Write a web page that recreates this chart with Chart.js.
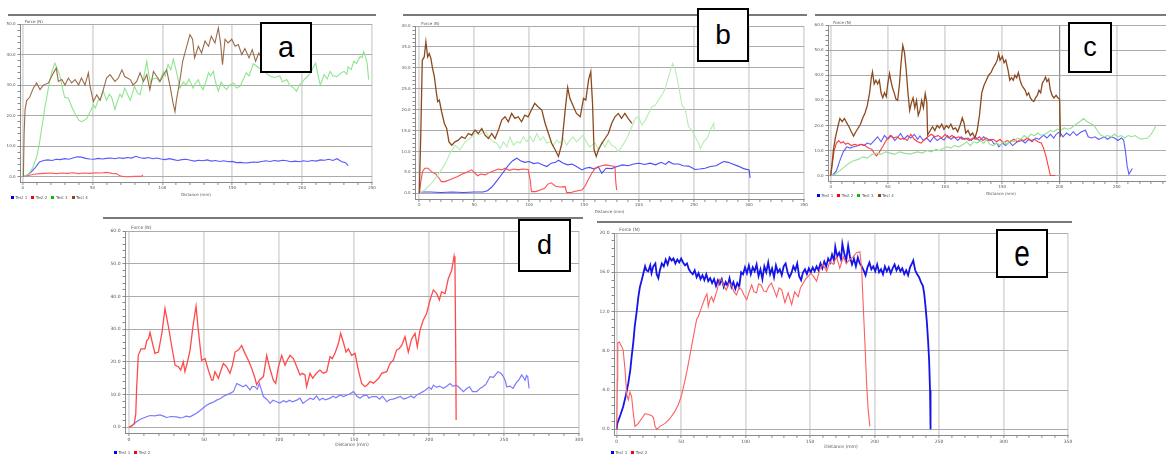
<!DOCTYPE html>
<html>
<head>
  <meta charset="utf-8">
  <title>Force vs distance, tests a-e</title>
  <script src="https://cdn.jsdelivr.net/npm/chart.js"></script>
  <style>
    html, body { margin: 0; width: 1166px; height: 454px; overflow: hidden; background: #fff; }
    canvas { position: absolute; }
    .rule { position: absolute; height: 2px; background: #7a7a7a; }
    .tag { position: absolute; box-sizing: border-box; border: 2px solid #000; background: #fff;
           font-family: "Liberation Sans", sans-serif; color: #000;
           display: flex; align-items: center; justify-content: center; z-index: 2; }
    .legend { position: absolute; font: 4px "DejaVu Sans", sans-serif; color: #555; white-space: nowrap; }
    .legend span { margin-right: 4px; }
    .legend i { display: inline-block; width: 3px; height: 3px; margin-right: 1.5px; vertical-align: middle; }
  </style>
</head>
<body>
  <div class="rule" style="left:8px;top:14px;width:368px"></div>
  <div class="rule" style="left:403px;top:14px;width:404px"></div>
  <div class="rule" style="left:815px;top:14px;width:351px"></div>
  <div class="rule" style="left:103px;top:217px;width:480px"></div>
  <div class="rule" style="left:597px;top:221px;width:475px"></div>

  <div class="tag" style="left:260px;top:22px;width:52px;height:51px;font-size:29px">a</div>
  <div class="tag" style="left:697px;top:8px;width:52px;height:54px;font-size:28px">b</div>
  <div class="tag" style="left:1068px;top:22px;width:44px;height:51px;font-size:27px">c</div>
  <div class="tag" style="left:518px;top:219px;width:53px;height:53px;font-size:27px">d</div>
  <div class="tag" style="left:996px;top:229px;width:52px;height:49px;font-size:28px"><span style="display:inline-block;transform:scaleY(1.3)">e</span></div>

<script>
// tick labels of each panel
const aXTicks = [0, 50, 100, 150, 200, 250];
const aYTicks = [0, 10, 20, 30, 40, 50];
const bXTicks = [0, 50, 100, 150, 200, 250, 300, 350];
const bYTicks = [0, 5, 10, 15, 20, 25, 30, 35, 40];
const cXTicks = [0, 50, 100, 150, 200, 250, 300];
const cYTicks = [0, 10, 20, 30, 40, 50, 60];
const dXTicks = [0, 50, 100, 150, 200, 250, 300];
const dYTicks = [0, 10, 20, 30, 40, 50, 60];
const eXTicks = [0, 50, 100, 150, 200, 250, 300, 350];
const eYTicks = [0, 4, 8, 12, 16, 20];

const testNames = ["Test 1", "Test 2", "Test 3", "Test 4"];

// [distance mm, force N]
const aTest1 = [[0,0],[3,0.5],[6,1.5],[9,3],[12,4.8],[15,5.3],[18,5.5],[21,5.3],[24,5.7],[27,5.6],[30,5.9],[33,5.7],[36,6.1],[39,6.5],[42,6.4],[45,6.0],[48,5.8],[51,5.7],[54,6.0],[57,5.8],[60,6.0],[63,6.1],[66,5.9],[69,6.2],[72,6.0],[75,6.3],[78,6.1],[81,6.7],[84,6.2],[87,6.0],[90,6.3],[93,5.9],[96,6.1],[99,5.8],[102,5.6],[105,5.9],[108,5.6],[111,5.3],[114,5.6],[117,5.7],[120,5.4],[123,5.1],[126,5.4],[129,5.2],[132,5.5],[135,5.1],[138,5.3],[141,5.0],[144,5.2],[147,4.9],[150,5.0],[153,4.6],[156,4.7],[159,4.5],[162,4.6],[165,4.8],[168,4.7],[171,5.0],[174,5.2],[177,5.0],[180,5.3],[183,5.1],[186,5.4],[189,5.2],[192,4.9],[195,5.1],[198,4.9],[201,5.2],[204,5.0],[207,5.3],[210,5.1],[213,5.5],[216,5.4],[219,5.7],[222,5.3],[225,5.9],[228,5.0],[231,4.6],[233,3.6]];
const aTest2 = [[0,0],[4,0.4],[8,0.8],[12,1.0],[16,1.1],[20,1.2],[24,1.0],[28,1.2],[32,1.1],[36,1.3],[40,1.0],[44,1.2],[48,1.1],[52,1.3],[56,1.2],[60,1.4],[64,1.1],[67,1.0],[69,0.5],[71,0.1],[75,0.0],[80,0.1],[85,0.1],[86,0.6]];
const aTest3 = [[0,0],[4,0.8],[7,2.7],[10,6.5],[12,11],[14,17],[16,23],[18,28],[19.5,31.8],[21,34.5],[23,37.2],[25,35],[26.7,33],[28.5,29],[30,26],[32.7,25.7],[35,23],[37,21],[38.6,19.7],[40,18.6],[42,18],[44,18.5],[45.8,19],[48,21],[50.6,23.5],[52,22.5],[54,25],[56,26],[57.7,28],[60,25],[62,27],[63.7,26],[66,22],[68,25],[69.6,27],[71,26],[73,29],[75,27],[77,25],[79,28],[80,29.6],[82,27.5],[84,26.8],[86,31],[88.8,37.8],[90,34],[91.5,30.7],[93,32],[96,32.3],[98,31],[100.7,34.5],[102,33],[104,36.7],[106,35],[107.8,38.5],[110,34.5],[112.6,29],[115,31],[117,30],[119,32],[122,29],[123.5,30.5],[125.7,31.8],[127,30],[129,28.5],[131,31],[133,34],[134.5,33],[136.5,34.5],[138,31],[140,28],[142,31],[144,29.5],[146,28.5],[148,30],[151,30.7],[153,29],[155.6,29.6],[158,32],[160,34],[162,33],[165,37],[168,36],[171,35],[174,34],[177,33],[180,32.5],[184,33],[186,31],[189,31.8],[191,30],[194,29],[196,28],[198,30],[200,31],[202,32],[205,33.4],[207,35],[209.7,37.2],[211,34],[213,30],[215.7,33.4],[218,32],[220,34.5],[222,33],[225,32.8],[228,34],[230,34.5],[232,33.5],[233,36],[235,35],[237,37.8],[239,37],[241.5,39.4],[243,39],[244,41],[245.5,39],[246.5,37.2],[247.6,31.8]];
const aTest4 = [[0.5,0],[1,14],[1.7,22],[2.9,25],[5,26],[7.6,29],[10,30.7],[12.4,28.5],[14.8,30],[18.4,30.7],[22,34],[24,35.6],[25.5,31.2],[28,31.8],[30.3,30],[32.7,32.3],[35,30.7],[37.5,31.8],[40,30],[42,32.3],[44.6,30],[47,34],[48.2,29.6],[50.6,24.6],[53,26.8],[55.4,25],[57.7,28.5],[60,32.3],[62.5,33.4],[66,31.2],[68.5,32.3],[71,35],[73,32.8],[77,31.8],[79,30],[81.6,31.2],[84,34],[86.4,31.2],[88.8,33.4],[91,28.5],[93.6,34.5],[96,32.8],[98.3,31.2],[100.7,33.4],[103,35],[105.5,29.6],[107.4,24.6],[109,21.3],[110,25],[112.6,31.8],[114.5,37.8],[117,42],[119.7,46.5],[121.6,45],[123,38.9],[125.7,42.7],[128,40.5],[130.5,44.4],[133,42.7],[135,46],[137.6,43.8],[140,48.7],[141.6,43.8],[143,36.7],[144.8,45],[147,43.8],[149.6,45],[152,42.7],[154.3,43.3],[156.8,40],[159,42],[162,38.9],[164.3,41.6],[166.7,37.8],[169,40.5],[172,38]];

const bTest1 = [[0,0.3],[10,0.3],[20,0.2],[30,0.3],[40,0.2],[50,0.3],[58,0.3],[62,0.6],[66,1.5],[70,2.8],[74,4.2],[78,5.6],[82,7.0],[85,7.8],[88.7,8.4],[92,7.8],[96,7.4],[100,7.6],[104,7.1],[108,7.3],[112,6.8],[116,6.4],[120,7.2],[124,7.4],[126.6,7.9],[131,7.2],[135,6.8],[139,7.0],[143,6.4],[148,5.6],[151,6.0],[155,6.2],[159,5.8],[163,6.3],[166,4.8],[170,6.0],[175,5.9],[180,6.4],[185,6.8],[190,6.6],[195,7.0],[200,7.2],[205,6.9],[210,7.2],[215,6.8],[220,7.4],[224,6.9],[227,7.6],[231,7.0],[236,7.0],[240,6.6],[245,6.5],[251,5.7],[255,5.8],[260,6.0],[265,6.4],[270,6.6],[274,7.2],[277,7.6],[281,7.4],[285,7.0],[290,6.5],[295,5.9],[300,5.6],[301,3.7]];
const bTest2 = [[0,0],[1.5,3],[3,5.2],[5,6.0],[8,6.0],[10,5.4],[12,5.0],[15,4.6],[18,3.6],[20,2.8],[23.4,2.8],[27,3.2],[31,3.6],[35,4.0],[39,4.6],[43,5.0],[47.7,5.6],[50,5.0],[53,4.2],[56,4.6],[60,4.4],[64,5.0],[68,5.4],[72,5.8],[75,5.6],[78,6.0],[82,5.5],[86,5.8],[90,5.6],[94,5.8],[99,5.7],[101,3.0],[102,0.4],[106,0.4],[110,0.8],[114,1.2],[117,2.2],[120,2.5],[124,1.7],[128,1.5],[132.7,1.6],[134,0.2],[138,0.2],[142,0.5],[148,0.8],[151,1.8],[154,3.4],[157,4.8],[160,6.0],[163,6.4],[166,6.6],[170,6.8],[174,6.6],[178,6.4],[178.7,3.0],[179.5,0.8]];
const bTest3 = [[0.5,0.2],[5,0.8],[11,2.4],[17,4.4],[23,6.8],[28,9.6],[32.5,11.5],[37,10.4],[41.6,12.3],[46,13.1],[50.7,14.3],[55,14],[59.8,15.1],[64,13.1],[67.4,12.3],[70.5,12],[73.5,10.7],[76.5,12.3],[79.6,11.1],[82.6,13.5],[85.6,11.5],[88.7,12.3],[91.7,12],[94.7,13.5],[97.8,12.3],[100.8,13.5],[103.9,12.3],[106.9,14.3],[110,12.7],[113,13.5],[116,12],[119,12.3],[122,11.5],[125,12.7],[128,12],[131,13.1],[134,11.5],[137,12.7],[140,13.5],[143,12.3],[146,13.1],[149,13.9],[152,12.3],[155,11.1],[160,12],[163,10.4],[166,12.3],[169,11.1],[172,12.7],[175,11.5],[178,11.1],[181,10],[184,11.1],[187,12.3],[190,13.9],[193.4,15.9],[196.5,17.9],[199.5,18.3],[202.5,16.3],[205.6,17.5],[208.6,19.1],[211.7,20.7],[214.7,21.1],[217.7,22.3],[220.8,23.5],[223.8,25.1],[226.8,27.9],[230.5,31],[233,29.5],[236,25.5],[239,21.1],[242,19.9],[245,15.9],[248,15.1],[251,13.5],[254,12],[255.7,10.7],[258.7,12.3],[261.8,13.1],[264.8,15.1],[267.8,16.7],[268.8,14.7]];
const bTest4 = [[0,0],[1.5,16],[2.7,31.8],[4.5,32.6],[6,36.2],[7.6,32.6],[9,33.4],[10.6,32.2],[12,29.9],[13.7,27.9],[15.2,24.7],[16.7,21.9],[18.2,22.3],[20.3,19.5],[22.8,16.7],[24.9,15.5],[27,12.3],[29.5,11.5],[32.5,12.3],[35.5,12.7],[38.6,13.5],[41.6,13.1],[44.6,14.3],[47.7,13.9],[50.7,15.1],[53.7,14.3],[56.8,15.5],[59.8,13.9],[62.9,13.1],[65.9,14.3],[68.9,13.1],[72,15.1],[75,17.5],[78,18.3],[81,17.1],[84,19.1],[87,17.9],[90,18.3],[93,17.1],[96,18.7],[99,18.3],[102,19.9],[105,21.5],[108,20.7],[111.5,19.9],[114.5,16.7],[117.5,14.3],[120.5,11.9],[123.6,10.4],[126.6,8.8],[129.7,11.9],[132.7,19.9],[135,25.3],[137,22.7],[140.3,20.7],[143,19.1],[146.4,18.3],[149.4,22.7],[151.5,22.3],[154,27.1],[156,29.1],[157.6,21.5],[159,10.4],[161,8.8],[163,10.4],[166,11.9],[169,13.1],[172,14.3],[175,16.7],[178,18.3],[181,19.1],[184,17.9],[187,19.1],[190,17.9],[193.4,16.7]];

const cTest1 = [[0,0],[2,0.3],[5,2],[8,6],[11,9.5],[14,11.5],[17,11],[20,11.5],[23,11.8],[26,12.5],[29,12],[32,13],[35,12.5],[38,14],[41,15.5],[44,13.5],[47,16],[50,14.5],[53,16],[56,14],[59,15.5],[61,16.8],[64,14.5],[67,16],[70,15],[73,16.5],[76,14.5],[78,15.8],[81,14],[84,15],[87,13.5],[90,15.5],[93,14],[96,15],[99,14.2],[102,16],[105,14.5],[108,15.5],[111,14],[114,15.5],[117,14.5],[120,15],[123,14],[126,15.5],[130,14],[133.7,15.5],[137,14],[140,14.5],[143,12.5],[145,13],[147,11.5],[150,13],[153,12],[156,13.5],[159,12],[163,13.5],[167,14],[170,13],[173,14.5],[176,13.5],[179,15],[182,14.5],[186,16.2],[189,15],[192,16.5],[195,15],[197,16.5],[200,17.5],[203,15.5],[206,17],[209,16],[212,17.5],[215,16],[219,17.5],[222.7,18.1],[225,15.5],[228,15],[231,15.5],[234,14.5],[236,14.8],[239,15.5],[242,14.5],[245,15.5],[248,15],[251,14],[254,15],[256,14.2],[257.5,10],[259,4],[260.6,0.6],[263.6,2.9]];
const cTest2 = [[0,0],[1.5,5],[3,10],[5,13],[7,14],[9,13],[11,13.5],[13,12.5],[15,13],[18,12],[21,12.5],[24,12],[27,12.5],[30,12],[33,11],[36,10.5],[38,9],[40,7.9],[42,9],[44,10.5],[46,12],[49,14.5],[52,16],[55,15],[58,15.5],[61,14.5],[64,15],[67,14],[70,16.5],[73,14.5],[76,13.5],[79,13],[82,14.5],[85,15.5],[88,16.5],[91,15.5],[94,16],[97,15],[100,16.5],[103,15],[106,16],[109,15],[112,15.5],[115,14.5],[118,15],[121,14],[124,15],[127,14.5],[130,15.5],[133,14],[136,15],[139,14],[142,14.5],[145,13.5],[148,14.5],[151,13],[154,14],[157,13.5],[160,14.5],[163,13.5],[166,14.5],[169,14],[172,15],[175,14],[178,14.5],[181,13.5],[184,13],[186,11],[188,8],[190,4],[191.5,1],[192,0.1],[196.4,0.1]];
const cTest3 = [[0,0],[4,0.6],[8,2],[12,3.5],[16,5],[20,6],[24,6.5],[28,7.5],[32,7],[36,8.5],[40,9],[44,8.5],[48,9.5],[52,9],[56,8.5],[60,9.5],[64,9],[69.5,8.6],[72,9],[76,9.5],[80,9],[84,10],[88,9.5],[92,10.5],[95,10],[98.6,10.9],[102,11.5],[105,11],[108,12],[112,11.5],[116,12.5],[119,13.5],[122,12],[125,13.5],[128,13],[131,14],[133.7,12.8],[136,14.5],[139,12.5],[142,12],[145,13],[148,12],[151,13.5],[154,12.5],[157,14],[160,13.5],[163,15],[166,14.5],[169,16],[172,15],[175,16.5],[178,16],[181,17],[183,16.2],[186,16.2],[189,17],[192,18],[195,17.5],[198,18.5],[201,18],[204,19],[207,18.5],[209.6,18.8],[213,20],[216,21],[219,22],[221,22.8],[224,21.5],[227,20.8],[230,20.1],[233,18],[236,16.2],[239,15.5],[242,16],[245,15.5],[248,16.5],[251,15.5],[254,16],[257,15],[260,16],[263,15.5],[266,16],[269,15],[272,14.5],[274,14.8],[277,15],[280,16.5],[282,18],[284,19.7]];
const cTest4 = [[0,0],[1.5,6],[2.3,10],[4,15],[6,19],[8,22.8],[10,21.5],[12,22.8],[14,21],[16,19.5],[18,17.5],[20,15.8],[22,17.5],[24,19],[26,20.5],[28,23],[30,25],[32,28],[34,33],[35.5,39],[36.5,41.3],[38,36.5],[39.5,38],[41,36.5],[42.5,38],[44,33],[45.5,31],[47,33],[48.5,31.5],[50,37],[51.4,40.7],[52.5,38],[54,35],[55.5,33],[57,30.5],[58.5,30],[60,36],[61.5,45],[63,51.9],[64.5,49],[66,42],[67.5,33],[69,26],[70.5,29],[72,31],[73.5,27],[75,30],[76.5,24],[78,26],[79.5,30],[81,27],[82.6,32.7],[84,29],[84.7,16.2],[87,18],[89,19.5],[91,18],[93,20],[95,19],[97,20.5],[99,18.5],[101,20],[103,19],[105,20.5],[107,18.5],[109,19],[111,17.5],[113,20],[115,23],[116.5,21],[118,17],[120,18],[122,16],[124,17],[126,15],[128,18],[130,24],[132,33],[134,36],[136,38],[138,40],[140,41],[142,43],[144,44.5],[145.5,46],[146.8,48.6],[148,46],[150,47.5],[151.5,45],[153,46],[155,42],[156.5,38],[158,39],[159.5,38],[161,40],[162.5,39],[164,41],[165.5,38],[167,36],[168.5,35],[170,34],[171.5,32],[173,33],[174.5,31],[176,30],[177.5,29.5],[179,31],[180.5,32],[182,34],[183.5,33],[185,37],[186.5,38],[187.7,39.3],[189,37.5],[190.5,38.5],[192,34],[193.5,32],[195,31],[197,32],[198.5,31],[200,30.5],[200.8,15.5]];

const dTest1 = [[0,0],[2,0.5],[5,1.7],[7.3,2.4],[10,2.9],[14,3.6],[17,3.5],[20.7,3.8],[23,3.4],[25,3],[28,3.3],[31.8,3.2],[34,2.9],[36,3],[38,3.4],[40.7,3.2],[43,3.8],[45,4.3],[47,5],[49.6,6],[52,6.8],[54,7.3],[56,7.6],[58.4,8.3],[61,8.8],[63,9.5],[65,9.9],[67,10.3],[69.6,10.9],[71.8,13.4],[74,12.9],[76,12.4],[78,12.9],[80.7,11.4],[82,12.5],[84,12.4],[85.5,11.6],[86.9,13.4],[88,11.8],[89.6,9.4],[92,8.5],[94,7.3],[96,8.3],[98.4,7.8],[100.5,7.4],[103,8.1],[105,7.7],[107,8.3],[109,7.8],[111.8,8.3],[114,8.9],[116,7.3],[118,8.0],[120.7,8.9],[123,8.5],[125,9.6],[127,8.3],[129,8.9],[131,8.4],[134,8.9],[136,9.5],[138,9.0],[140.7,9.9],[143,9.4],[145,9.8],[147,10.2],[149.6,10.9],[152,9.5],[154,8.9],[156,9.6],[158.4,9.9],[160,8.9],[162,9.4],[165,9.4],[167,8.6],[169,9.5],[171.8,7.8],[174,8.5],[176,8.6],[178,8.9],[181,9.4],[183,8.6],[185,8.9],[188,9.6],[190,9.0],[191.8,9.9],[194,10.4],[196,10.9],[198,11.5],[200,12.3],[201.5,11.6],[203,12.9],[205,12.2],[207,12.6],[209.6,11.9],[212,12.6],[214,13.4],[216,12.5],[218,12.9],[219.6,12.4],[221,11.8],[222.9,10.9],[225,11.8],[227,12.4],[229,10.9],[231.8,10.9],[234,11.9],[236,12.4],[238,13.2],[240.7,15.5],[243,15.3],[246,17],[248,16.5],[249.6,15.5],[251,14],[251.8,12.4],[254,12.6],[256,11.9],[258,13.5],[260,14.6],[261.8,16],[263,15.2],[264,14.4],[265,15.8],[265.8,15.5],[266.7,11.9]];
const dTest2 = [[0,0],[2,0.5],[3.5,1.2],[4.5,4],[5.1,12],[6.2,22],[8,24],[10.7,24],[11.8,26.5],[13,27],[14,29],[15.5,26],[17.3,22.6],[19.6,23],[22,29],[24,36.3],[26.2,31],[28.4,25],[30.7,19],[32.9,18.5],[34.5,17.5],[36.2,20],[37.3,17],[39,20],[40.7,23.6],[42.9,31.7],[44.7,37],[46.2,29.7],[48.4,20.5],[50.7,21],[52.9,17.5],[55.1,14.4],[56,14.4],[57.3,17],[59.6,15],[61,17],[62.9,19.5],[65.1,18.5],[67.3,16.5],[69,19],[70.7,23],[72.9,23.6],[75.1,25],[77.3,22.6],[79.6,20.5],[81.8,18],[84,15],[85.1,13],[86.9,14.4],[89.6,15.5],[91.8,22],[93.6,18.5],[96.2,14.4],[97.8,13.4],[99.6,18.5],[101.8,22],[104,19],[105.5,20.5],[107.3,22],[109.6,21],[111.8,18.5],[114,16],[115.5,16.5],[117.3,16],[118.4,12.4],[120.7,16.5],[122.5,15],[124,16],[126,17],[127.3,17.5],[129.5,16.5],[131.8,17],[134,21.6],[135.5,21],[137.3,22.6],[139.6,25.6],[141.1,28.7],[142.9,26],[144.7,23],[146.2,24],[148.4,22],[150.7,22.6],[152.9,17.5],[155.1,13.4],[157.3,12.4],[159,13],[160.7,14],[163,13.5],[165.1,14.4],[166.5,15],[168.4,16.5],[171.8,17],[174,19.5],[176.2,20.5],[178.4,23.6],[180,24],[181.8,25],[184,27.7],[186.2,23],[188.4,27],[190.7,28.7],[192.2,24.6],[194,29.7],[196.2,32.8],[198.4,34.8],[200.7,38.9],[202.9,42],[205.1,40.9],[206.9,38.9],[208.4,41.4],[210.7,40.9],[212.9,45.5],[215.1,48],[216.7,52.3],[217.3,50],[217.8,24],[218.1,2.2]];

const eTest1 = [[0,0],[0.5,0.6],[3,1.5],[5,2.3],[7,3.4],[9,4.7],[10.5,6],[11.6,7.4],[13,9],[14,10.5],[15.5,12],[16.8,13.5],[18,14.5],[19.4,15.2],[20.5,15.8],[22,16.6],[23,16.2],[24.5,16.1],[26,16.7],[27,15.9],[28.4,16.6],[30,16.9],[31,15.8],[32.3,15.4],[33.5,16.2],[35,16.9],[36.5,16.6],[38,17.3],[39.5,16.8],[41,17.5],[42.6,17.2],[44,17.4],[45.5,16.9],[47,17.3],[48.5,17.0],[50,17.4],[51.5,17.0],[53,16.7],[54.5,16.9],[56,16.3],[57.5,16.0],[59,15.8],[60.5,16.2],[62,15.5],[63.5,15.9],[65,15.3],[66.5,15.7],[68,15.2],[69.5,15.8],[71,15.1],[72.5,15.4],[74,14.9],[75.5,15.3],[77,14.6],[78.5,15.2],[80,14.8],[81.5,15.3],[83,14.5],[84.5,15.0],[86,14.6],[87.5,15.4],[89,14.5],[90.5,15.0],[92,14.3],[93.5,14.9],[95,14.5],[96.5,16.0],[98,15.8],[99.5,16.5],[101,15.9],[102.5,16.7],[104,15.8],[105.5,16.5],[107,16.1],[108.5,16.8],[110,15.6],[111.5,16.3],[113,15.3],[114.5,16.6],[116,16.0],[117.5,17.0],[119,15.8],[120.5,16.4],[122,15.5],[123.5,16.7],[125,16.0],[126.5,16.3],[128,15.7],[129.5,16.6],[131,16.9],[132.5,16.0],[134,15.5],[135.5,15.9],[137,16.6],[138.5,16.2],[140,16.9],[141.5,15.6],[143,15.2],[144.5,16.0],[146,16.3],[147.5,15.8],[149,16.4],[150.5,16.0],[152,16.5],[153.5,16.1],[155,16.6],[156.5,16.2],[158,16.9],[159.5,16.4],[161,17.1],[162.5,16.6],[164,17.4],[165.5,17.0],[167,17.8],[168.5,17.2],[169.5,18.6],[171,17.6],[172.5,18.0],[174,17.3],[175,18.9],[176.5,17.9],[178,17.2],[179.5,18.7],[181,17.5],[182.5,16.8],[184,17.4],[185.5,16.6],[187,17.5],[188.5,16.9],[190,16.6],[191.5,16.2],[193,15.7],[194.5,16.5],[196,17.0],[197.5,16.3],[199,16.6],[200.5,16.1],[202,16.8],[203.5,16.0],[205,16.3],[206.5,15.8],[208,16.6],[209.5,16.1],[211,16.5],[212.5,15.9],[214,16.4],[215.5,16.8],[217,16.2],[218.5,16.6],[220,16.1],[221.5,16.4],[223,15.8],[224.5,16.2],[226,15.7],[227.5,16.5],[229,16.9],[230,17.2],[231.5,16.2],[233,15.8],[234.5,15.5],[236,15.0],[237.5,14.6],[238.5,13.8],[239.5,12.5],[240.5,11.0],[241.5,9.0],[242.3,7.0],[243,4.0],[243.4,0]];
const eTest2 = [[0,0],[0.5,5],[0.8,8.8],[2,8.9],[3.9,8.4],[5,8.1],[6.5,6],[7.8,3.5],[9,3],[10.3,3.8],[11.6,3.3],[12.9,1.6],[14.2,0.3],[16.8,0.6],[19.4,1.1],[22,1.6],[24.5,1.5],[27,1.4],[28.5,1.2],[29.7,0.3],[31,0],[33.6,0.3],[37.5,0.6],[41.3,1.1],[45,1.8],[47.8,2.5],[50.4,3.5],[53,5],[55.6,6.7],[58,8.4],[60.7,10.3],[62,11.2],[63.3,11.5],[66,12.5],[68.5,13.4],[70,13.8],[71,12.5],[72.3,13.2],[73.6,13.5],[75,13.0],[76,13.4],[77.5,14.0],[78.8,14.7],[80,15.3],[81.4,15.2],[83,14.6],[85,14.2],[87,14.9],[89,14.7],[91,14.0],[93,13.7],[95,14.5],[97,14.2],[99,13.6],[100.8,13.2],[102.5,13.9],[104.7,14.7],[106.5,14.0],[108.5,13.9],[110,14.8],[112,14.7],[114,14.1],[116,14.0],[118,14.6],[120,14.9],[122,14.2],[124,13.5],[126,14.4],[128,14.2],[130.5,12.9],[133,13.9],[135.7,12.7],[138,14],[140.8,13.5],[142.5,14.4],[144.7,14.9],[146.5,15.3],[148.6,15.6],[150.5,15.9],[152.5,15.6],[155,15.1],[157.6,16.3],[160,16.8],[162.8,16.1],[165.4,17.1],[168,16.8],[170.5,17.6],[173,16.4],[175.7,17.6],[178,16.9],[180.9,17.3],[183.5,17.6],[186,18],[188.6,18.1],[190,16.3],[191,13.2],[192.5,8.8],[193.8,4.7],[195,2],[196.4,0.3]];

// where the x=0 / y=0 gridlines and the far gridlines sit on the page
const panels = [
  { x0: 22.7, xEnd: 372.3, y0: 176.7, yTop: 24.3, dx: 2.7, dy: 5, font: 4, xTicks: aXTicks, yTicks: aYTicks,
    series: [[aTest1, '#5858ff', 1.1], [aTest2, '#ff5a5a', 1.1], [aTest3, '#8fe58f', 1.1], [aTest4, '#9a6a48', 1.1]],
    legend: { left: 11, top: 194.5, count: 4 } },
  { x0: 419.3, xEnd: 803.7, y0: 193.3, yTop: 26, dx: 4.3, dy: 6, font: 4, xTicks: bXTicks, yTicks: bYTicks,
    series: [[bTest1, '#4b4bf5', 1.1], [bTest2, '#ff4d4d', 1.1], [bTest3, '#b7ecb2', 1.1], [bTest4, '#8b4a1f', 1.3]] },
  { x0: 830.7, xEnd: 1173.9, y0: 175.7, yTop: 24.7, dx: 3.2, dy: 5, font: 4, xTicks: cXTicks, yTicks: cYTicks, darkX: 200,
    series: [[cTest1, '#5c5cff', 1.1], [cTest2, '#ff3c3c', 1.1], [cTest3, '#94e294', 1.1], [cTest4, '#8b4a1f', 1.3]],
    legend: { left: 817, top: 193, count: 4 } },
  { x0: 129, xEnd: 579, y0: 427.3, yTop: 231, dx: 4, dy: 6, font: 4.5, xTicks: dXTicks, yTicks: dYTicks,
    series: [[dTest1, '#7b7bff', 1.2], [dTest2, '#ff4a4a', 1.3]],
    legend: { left: 114, top: 450, count: 2 } },
  { x0: 616.7, xEnd: 1068.3, y0: 429.3, yTop: 233.3, dx: 3.2, dy: 5.7, font: 4.5, xTicks: eXTicks, yTicks: eYTicks,
    series: [[eTest1, '#1414e8', 1.8], [eTest2, '#ff5e5e', 1.1]],
    legend: { left: 611, top: 450, count: 2 } },
];
const legendColors = ['#0000ff', '#ff0000', '#00c000', '#8b4513'];

const withMinor = (majors) => {
  const out = [];
  majors.forEach((v, i) => {
    out.push({ value: v, isMajor: true });
    if (i < majors.length - 1) {
      const step = (majors[i + 1] - v) / 5;
      for (let k = 1; k < 5; k++) out.push({ value: v + k * step, isMajor: false });
    }
  });
  return out;
};

const forceLabel = {
  id: 'forceLabel',
  afterDraw(chart, args, opts) {
    const { ctx, chartArea } = chart;
    ctx.save();
    ctx.font = opts.size + 'px "DejaVu Sans"';
    ctx.fillStyle = '#555';
    ctx.textBaseline = 'bottom';
    ctx.fillText('Force (N)', chartArea.left + opts.dx + 2, chartArea.top - 0.5);
    ctx.restore();
  }
};

const Y_AXIS_W = 20, PAD_T = 8, PAD_R = 8, X_AXIS_H = 18;

panels.forEach((p) => {
  const left = Math.round(p.x0 - p.dx), right = Math.round(p.xEnd);
  const top = Math.round(p.yTop), bottom = Math.round(p.y0 + p.dy);
  const xMax = p.xTicks[p.xTicks.length - 1], yMax = p.yTicks[p.yTicks.length - 1];
  const xMin = -(p.x0 - left) * xMax / (p.xEnd - p.x0);
  const yMin = -(bottom - p.y0) * yMax / (p.y0 - p.yTop);

  const cv = document.createElement('canvas');
  cv.width = right - left + Y_AXIS_W + PAD_R;
  cv.height = bottom - top + PAD_T + X_AXIS_H;
  cv.style.left = (left - Y_AXIS_W) + 'px';
  cv.style.top = (top - PAD_T) + 'px';
  document.body.appendChild(cv);

  const tickFont = { size: p.font, family: '"DejaVu Sans", sans-serif' };
  const xTickList = withMinor(p.xTicks), yTickList = withMinor(p.yTicks);
  const n = p.series.length;

  new Chart(cv, {
    type: 'line',
    data: {
      datasets: p.series.map(([pts, color, width], i) => ({
        label: testNames[i],
        data: pts.map(([x, y]) => ({ x, y })),
        borderColor: color,
        borderWidth: width,
        pointRadius: 0,
        tension: 0,
        fill: false,
        order: n - i,
      })),
    },
    options: {
      responsive: false,
      animation: false,
      events: [],
      layout: { padding: { top: PAD_T, right: PAD_R, left: 0, bottom: 0 } },
      plugins: { legend: { display: false }, tooltip: { enabled: false }, forceLabel: { dx: p.dx, size: p.font } },
      scales: {
        x: {
          type: 'linear', min: xMin, max: xMax,
          afterBuildTicks: (s) => { s.ticks = xTickList.map((t) => ({ ...t })); },
          afterFit: (s) => { s.height = X_AXIS_H; s.paddingLeft = 0; s.paddingRight = 0; },
          ticks: {
            autoSkip: false, maxRotation: 0, minRotation: 0, padding: 1, color: '#555', font: tickFont,
            callback: (v, i, ts) => ts[i].isMajor ? String(v) : '',
          },
          grid: {
            color: (c) => c.tick && c.tick.isMajor ? (c.tick.value === p.darkX ? '#8c8c8c' : '#dcdcdc') : 'rgba(0,0,0,0)',
            lineWidth: (c) => c.tick && c.tick.value === p.darkX ? 1.2 : 1.8,
            tickColor: '#8a8a8a', tickLength: 3, tickWidth: 1,
          },
          border: { display: true, color: '#8a8a8a', width: 1 },
          title: { display: true, text: 'Distance (mm)', color: '#555', font: tickFont, padding: { top: 0, bottom: 3 } },
        },
        y: {
          min: yMin, max: yMax,
          afterBuildTicks: (s) => { s.ticks = yTickList.map((t) => ({ ...t })); },
          afterFit: (s) => { s.width = Y_AXIS_W; s.paddingTop = 0; s.paddingBottom = 0; },
          ticks: {
            autoSkip: false, padding: 2, color: '#555', font: tickFont,
            callback: (v, i, ts) => ts[i].isMajor ? v.toFixed(1) : '',
          },
          grid: {
            color: (c) => c.tick && c.tick.isMajor ? '#ababab' : 'rgba(0,0,0,0)',
            lineWidth: 1,
            tickColor: '#8a8a8a', tickLength: 2.5, tickWidth: 1,
          },
          border: { display: true, color: '#8a8a8a', width: 1 },
        },
      },
    },
    plugins: [forceLabel],
  });

  if (p.legend) {
    const lg = document.createElement('div');
    lg.className = 'legend';
    lg.style.left = p.legend.left + 'px';
    lg.style.top = p.legend.top + 'px';
    lg.innerHTML = testNames.slice(0, p.legend.count)
      .map((name, i) => `<span><i style="background:${legendColors[i]}"></i>${name}</span>`).join('');
    document.body.appendChild(lg);
  }
});
</script>
</body>
</html>
